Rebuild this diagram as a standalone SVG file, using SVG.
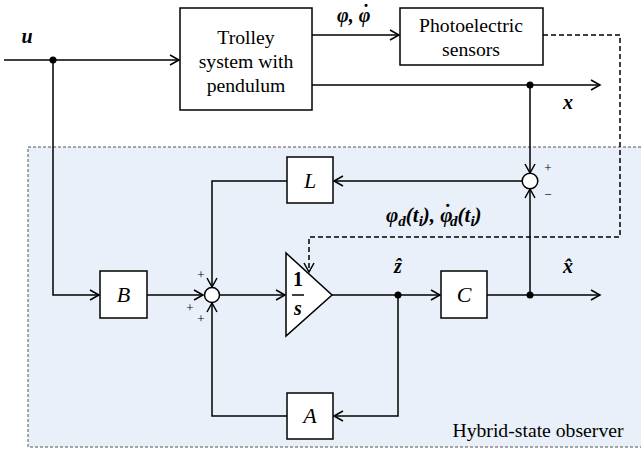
<svg xmlns="http://www.w3.org/2000/svg" width="641" height="454" viewBox="0 0 641 454">
<defs>
<marker id="arr" viewBox="-10 -6 12 12" markerWidth="12" markerHeight="12" refX="0" refY="0" orient="auto" markerUnits="userSpaceOnUse">
<path d="M-9,-5 L0,0 L-9,5" fill="none" stroke="#000" stroke-width="1.5"/>
</marker>
</defs>
<style>
.blk{fill:#fff;stroke:#000;stroke-width:1.5}
.ln{fill:none;stroke:#000;stroke-width:1.5}
.dl{fill:none;stroke:#000;stroke-width:1.5;stroke-dasharray:5,3}
text{font-family:'Liberation Serif','DejaVu Serif','Times New Roman',serif;fill:#000;text-anchor:middle}
.t{font-size:19.7px}
.m{font-size:22px;font-style:italic}
.mb{font-size:20px;font-style:italic;font-weight:bold}
.s{font-size:13px}
.dot{fill:#000}
</style>
<rect id="observer" x="28" y="147" width="625" height="300" fill="#e9f0f9" stroke="#555" stroke-width="1" stroke-dasharray="3,2"/>
<text class="t" x="538" y="437">Hybrid-state observer</text>

<g id="connectors">
<path class="ln" d="M4,60 H179" marker-end="url(#arr)"/>
<path class="ln" d="M53,60 V295 H99" marker-end="url(#arr)"/>
<path class="ln" d="M147,295 H203" marker-end="url(#arr)"/>
<path class="ln" d="M220,295 H285" marker-end="url(#arr)"/>
<path class="ln" d="M332,295 H440" marker-end="url(#arr)"/>
<path class="ln" d="M487,295 H600" marker-end="url(#arr)"/>
<path class="ln" d="M398,295 V416 H334" marker-end="url(#arr)"/>
<path class="ln" d="M287,416 H212 V303" marker-end="url(#arr)"/>
<path class="ln" d="M287,181 H212 V287" marker-end="url(#arr)"/>
<path class="ln" d="M522,181 H334" marker-end="url(#arr)"/>
<path class="ln" d="M530,85 V173" marker-end="url(#arr)"/>
<path class="ln" d="M530,295 V189" marker-end="url(#arr)"/>
<path class="ln" d="M312,35 H399" marker-end="url(#arr)"/>
<path class="ln" d="M312,85 H600" marker-end="url(#arr)"/>
<path class="dl" d="M543,35 H620 V237 H309 V272" marker-end="url(#arr)"/>
<circle class="dot" cx="53" cy="60" r="3.5"/>
<circle class="dot" cx="530" cy="85" r="3.5"/>
<circle class="dot" cx="398" cy="295" r="3.5"/>
<circle class="dot" cx="530" cy="295" r="3.5"/>
</g>

<g id="trolley">
<rect class="blk" x="180" y="8" width="132" height="102"/>
<text class="t" x="246" y="44">Trolley</text>
<text class="t" x="246" y="68">system with</text>
<text class="t" x="246" y="92">pendulum</text>
</g>
<g id="sensors">
<rect class="blk" x="400" y="8" width="143" height="57"/>
<text class="t" x="471" y="32">Photoelectric</text>
<text class="t" x="471" y="56">sensors</text>
</g>
<g id="B">
<rect class="blk" x="100" y="271" width="47" height="47"/>
<text class="m" x="123.5" y="302">B</text>
</g>
<g id="L">
<rect class="blk" x="287" y="157" width="46" height="46"/>
<text class="m" x="310" y="188">L</text>
</g>
<g id="C">
<rect class="blk" x="441" y="271" width="46" height="47"/>
<text class="m" x="464" y="302">C</text>
</g>
<g id="A">
<rect class="blk" x="287" y="393" width="46" height="46"/>
<text class="m" x="310" y="423">A</text>
</g>
<g id="integrator">
<path class="blk" d="M286,253 L286,336 L332,295 Z"/>
<text class="mb" x="298" y="286" style="font-style:normal">1</text>
<path d="M292,295 H304" stroke="#000" stroke-width="1.5"/>
<text class="mb" x="298" y="315">s</text>
</g>
<g id="sum1">
<circle class="blk" cx="212" cy="295" r="7.5"/>
<text class="s" x="201" y="279">+</text>
<text class="s" x="190" y="312">+</text>
<text class="s" x="201" y="323">+</text>
</g>
<g id="sum2">
<circle class="blk" cx="530" cy="181" r="7.8"/>
<text class="s" x="548" y="172">+</text>
<text class="s" x="548" y="199">−</text>
</g>

<g id="labels">
<text class="mb" x="27" y="43">u</text>
<text class="mb" x="337" y="22" style="text-anchor:start">φ, φ<tspan dx="-9" dy="-3">˙</tspan></text>
<text class="mb" x="568" y="109">x</text>
<text class="mb" x="568" y="273">x̂</text>
<text class="mb" x="398" y="273">ẑ</text>
<text class="mb" x="386" y="222" style="text-anchor:start;font-size:21px">φ<tspan font-size="15" dy="4">d</tspan><tspan dy="-4">(t</tspan><tspan font-size="15" dy="4">i</tspan><tspan dy="-4">), φ</tspan><tspan dx="-9.5" dy="-3">˙</tspan><tspan font-size="15" dy="7">d</tspan><tspan dy="-4">(t</tspan><tspan font-size="15" dy="4">i</tspan><tspan dy="-4">)</tspan></text>
</g>
</svg>
